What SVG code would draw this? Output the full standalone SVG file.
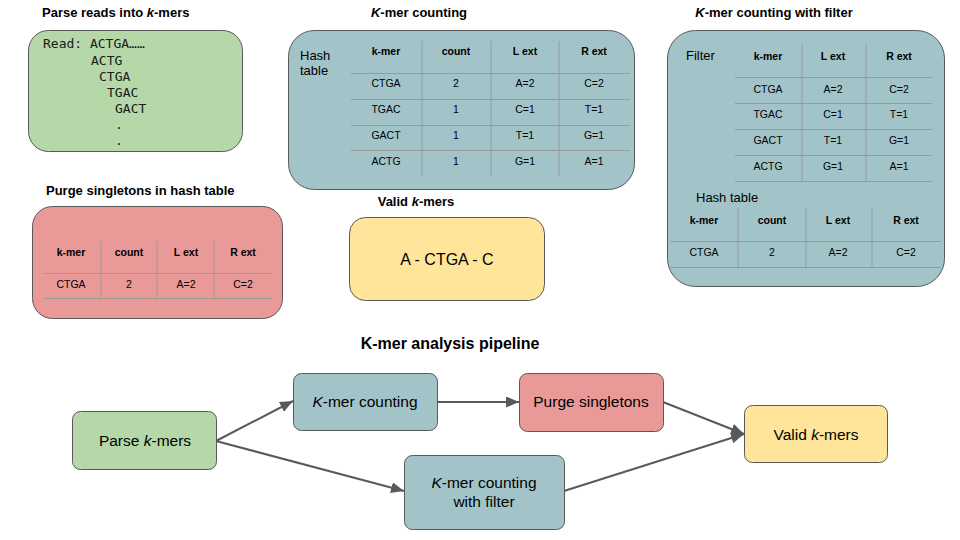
<svg xmlns="http://www.w3.org/2000/svg" width="960" height="540" viewBox="0 0 960 540">
<defs>
<style>
.t{font-family:"Liberation Sans",Arial,sans-serif;fill:#000}
.title{font-size:13px;font-weight:bold}
.ptitle{font-size:16px;font-weight:bold}
.lab{font-size:13px}
.th{font-size:10.5px;font-weight:bold;text-anchor:middle}
.td{font-size:10.5px;text-anchor:middle}
.mono{font-family:"DejaVu Sans Mono","Liberation Mono",monospace;font-size:13px;fill:#1a1a1a}
.grid line{stroke:#9a9a9a;stroke-width:1}
.box{stroke:#595959;stroke-width:1}
.green{fill:#b6d7a8}
.teal{fill:#a2c4c9}
.red{fill:#ea9999}
.yellow{fill:#ffe599}
.node{font-family:"Liberation Sans",Arial,sans-serif;font-size:15.5px;fill:#000;text-anchor:middle}
.conn line{stroke:#595959;stroke-width:2;marker-end:url(#arr)}
</style>
<marker id="arr" markerUnits="userSpaceOnUse" markerWidth="13" markerHeight="11" refX="13" refY="5.5" orient="auto">
<path d="M0,0 L13,5.5 L0,11 z" fill="#595959"/>
</marker>
</defs>
<rect width="960" height="540" fill="#fff"/>

<g id="panel-parse">
<text class="t title" x="42" y="17">Parse reads into <tspan font-style="italic">k</tspan>-mers</text>
<rect class="box green" x="28.5" y="30.5" width="214" height="121" rx="20"/>
<text class="mono" x="43" y="48">Read: ACTGA……</text>
<text class="mono" x="91" y="65">ACTG</text>
<text class="mono" x="99" y="81">CTGA</text>
<text class="mono" x="107" y="97">TGAC</text>
<text class="mono" x="115" y="113">GACT</text>
<text class="mono" x="115" y="129">.</text>
<text class="mono" x="115" y="145">.</text>
</g>

<g id="panel-count">
<text class="t title" x="419" y="17" text-anchor="middle"><tspan font-style="italic">K</tspan>-mer counting</text>
<rect class="box teal" x="288.5" y="30.5" width="346" height="159" rx="26"/>
<text class="t lab" x="300" y="60">Hash</text>
<text class="t lab" x="300" y="75">table</text>
<g class="grid">
<line x1="422" y1="41" x2="422" y2="176"/>
<line x1="491" y1="41" x2="491" y2="176"/>
<line x1="559" y1="41" x2="559" y2="176"/>
<line x1="351" y1="73.5" x2="630" y2="73.5"/>
<line x1="351" y1="99.5" x2="630" y2="99.5"/>
<line x1="351" y1="125.5" x2="630" y2="125.5"/>
<line x1="351" y1="150.5" x2="630" y2="150.5"/>
</g>
<text class="t th" x="386" y="55">k-mer</text>
<text class="t th" x="456" y="55">count</text>
<text class="t th" x="525" y="55">L ext</text>
<text class="t th" x="594" y="55">R ext</text>
<text class="t td" x="386" y="87">CTGA</text><text class="t td" x="456" y="87">2</text><text class="t td" x="525" y="87">A=2</text><text class="t td" x="594" y="87">C=2</text>
<text class="t td" x="386" y="113">TGAC</text><text class="t td" x="456" y="113">1</text><text class="t td" x="525" y="113">C=1</text><text class="t td" x="594" y="113">T=1</text>
<text class="t td" x="386" y="139">GACT</text><text class="t td" x="456" y="139">1</text><text class="t td" x="525" y="139">T=1</text><text class="t td" x="594" y="139">G=1</text>
<text class="t td" x="386" y="165">ACTG</text><text class="t td" x="456" y="165">1</text><text class="t td" x="525" y="165">G=1</text><text class="t td" x="594" y="165">A=1</text>
</g>

<g id="panel-filter">
<text class="t title" x="774" y="17" text-anchor="middle"><tspan font-style="italic">K</tspan>-mer counting with filter</text>
<rect class="box teal" x="667.5" y="30.5" width="277" height="256" rx="28"/>
<text class="t lab" x="686" y="60">Filter</text>
<g class="grid">
<line x1="802" y1="45" x2="802" y2="182"/>
<line x1="866" y1="45" x2="866" y2="182"/>
<line x1="735" y1="77.5" x2="932" y2="77.5"/>
<line x1="735" y1="103.5" x2="932" y2="103.5"/>
<line x1="735" y1="129.5" x2="932" y2="129.5"/>
<line x1="735" y1="155.5" x2="932" y2="155.5"/>
<line x1="735" y1="181.5" x2="932" y2="181.5"/>
</g>
<text class="t th" x="768" y="60">k-mer</text>
<text class="t th" x="833" y="60">L ext</text>
<text class="t th" x="899" y="60">R ext</text>
<text class="t td" x="768" y="93">CTGA</text><text class="t td" x="833" y="93">A=2</text><text class="t td" x="899" y="93">C=2</text>
<text class="t td" x="768" y="118">TGAC</text><text class="t td" x="833" y="118">C=1</text><text class="t td" x="899" y="118">T=1</text>
<text class="t td" x="768" y="144">GACT</text><text class="t td" x="833" y="144">T=1</text><text class="t td" x="899" y="144">G=1</text>
<text class="t td" x="768" y="170">ACTG</text><text class="t td" x="833" y="170">G=1</text><text class="t td" x="899" y="170">A=1</text>
<text class="t lab" x="696" y="202">Hash table</text>
<g class="grid">
<line x1="738" y1="208" x2="738" y2="267"/>
<line x1="806" y1="208" x2="806" y2="267"/>
<line x1="872" y1="208" x2="872" y2="267"/>
<line x1="670" y1="241.5" x2="941" y2="241.5"/>
<line x1="670" y1="267.5" x2="941" y2="267.5"/>
</g>
<text class="t th" x="704" y="224">k-mer</text>
<text class="t th" x="772" y="224">count</text>
<text class="t th" x="838" y="224">L ext</text>
<text class="t th" x="906" y="224">R ext</text>
<text class="t td" x="704" y="256">CTGA</text><text class="t td" x="772" y="256">2</text><text class="t td" x="838" y="256">A=2</text><text class="t td" x="906" y="256">C=2</text>
</g>

<g id="panel-purge">
<text class="t title" x="46" y="195">Purge singletons in hash table</text>
<rect class="box red" x="32.5" y="206.5" width="250" height="112" rx="20"/>
<g class="grid">
<line x1="101" y1="241" x2="101" y2="299"/>
<line x1="157" y1="241" x2="157" y2="299"/>
<line x1="214" y1="241" x2="214" y2="299"/>
<line x1="43" y1="273.5" x2="272" y2="273.5"/>
<line x1="43" y1="298.5" x2="272" y2="298.5"/>
</g>
<text class="t th" x="71" y="256">k-mer</text>
<text class="t th" x="129" y="256">count</text>
<text class="t th" x="186" y="256">L ext</text>
<text class="t th" x="243" y="256">R ext</text>
<text class="t td" x="71" y="288">CTGA</text><text class="t td" x="129" y="288">2</text><text class="t td" x="186" y="288">A=2</text><text class="t td" x="243" y="288">C=2</text>
</g>

<g id="panel-valid">
<text class="t title" x="416" y="206" text-anchor="middle">Valid <tspan font-style="italic">k</tspan>-mers</text>
<rect class="box yellow" x="349.5" y="217.5" width="195" height="83" rx="16"/>
<text class="t" x="447" y="265" font-size="16" text-anchor="middle">A - CTGA - C</text>
</g>

<text class="t ptitle" x="450" y="349" text-anchor="middle">K-mer analysis pipeline</text>

<g id="connectors" class="conn">
<line x1="216" y1="441" x2="293" y2="401"/>
<line x1="216" y1="441" x2="404" y2="491"/>
<line x1="437" y1="402" x2="519" y2="402"/>
<line x1="663" y1="402" x2="744" y2="434"/>
<line x1="564" y1="491" x2="744" y2="434"/>
</g>

<g id="node-parse">
<rect class="box green" x="72.5" y="411.5" width="144" height="58" rx="8"/>
<text class="node" x="145" y="446">Parse <tspan font-style="italic">k</tspan>-mers</text>
</g>
<g id="node-count">
<rect class="box teal" x="293.5" y="373.5" width="144" height="57" rx="8"/>
<text class="node" x="365" y="407"><tspan font-style="italic">K</tspan>-mer counting</text>
</g>
<g id="node-filter">
<rect class="box teal" x="404.5" y="455.5" width="160" height="74" rx="8"/>
<text class="node" x="484" y="488"><tspan font-style="italic">K</tspan>-mer counting</text>
<text class="node" x="484" y="507">with filter</text>
</g>
<g id="node-purge">
<rect class="box red" x="519.5" y="373.5" width="144" height="58" rx="8"/>
<text class="node" x="591" y="407">Purge singletons</text>
</g>
<g id="node-valid">
<rect class="box yellow" x="744.5" y="405.5" width="143" height="57" rx="8"/>
<text class="node" x="816" y="440">Valid <tspan font-style="italic">k</tspan>-mers</text>
</g>
</svg>
